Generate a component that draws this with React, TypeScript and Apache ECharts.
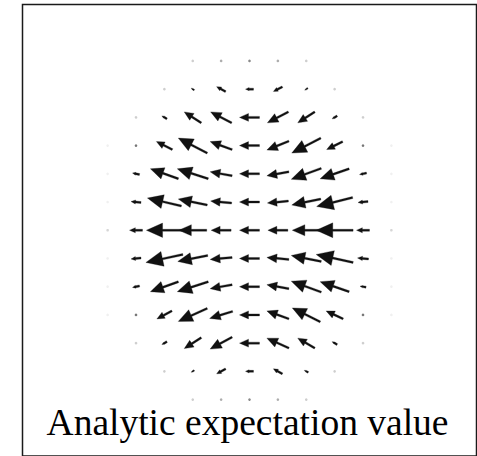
import React, { useEffect, useRef } from "react";
import * as echarts from "echarts";

// Sample grid: columns (x) and rows (y, top to bottom)
const COLS = [-5, -4, -3, -2, -1, 0, 1, 2, 3, 4, 5];
const ROWS = [6, 5, 4, 3, 2, 1, 0, -1, -2, -3, -4, -5, -6];

// Horizontal component of the expectation value at each grid point
const U_ROWS = [
  [0, 0, 0, -0.1, -0.15, -0.2, -0.15, -0.1, 0, 0, 0],
  [0, 0, -0.1, -0.3, -0.9, -0.8, -0.9, -0.3, -0.1, 0, 0],
  [0, -0.1, -0.5, -1.7, -2.1, -2.0, -2.1, -1.7, -0.5, -0.1, 0],
  [-0.05, -0.2, -1.6, -2.9, -2.2, -2.0, -2.2, -2.9, -1.6, -0.2, -0.05],
  [-0.05, -0.7, -2.8, -3.1, -2.2, -2.0, -2.2, -3.0, -2.9, -0.7, -0.05],
  [-0.05, -1.0, -3.4, -2.9, -2.1, -2.0, -2.1, -2.9, -3.6, -1.0, -0.05],
  [-0.1, -1.3, -3.6, -2.8, -2.0, -2.0, -2.0, -2.8, -3.7, -1.3, -0.1],
  [-0.05, -1.0, -3.7, -3.0, -2.2, -2.0, -2.2, -3.0, -3.7, -1.1, -0.05],
  [-0.05, -0.7, -2.8, -3.1, -2.2, -2.0, -2.2, -3.0, -2.9, -0.6, -0.05],
  [-0.05, -0.2, -1.5, -2.9, -2.3, -2.0, -2.2, -2.8, -1.7, -0.2, -0.05],
  [0, -0.1, -0.5, -1.7, -2.2, -2.0, -2.2, -1.7, -0.5, -0.1, 0],
  [0, 0, -0.1, -0.3, -0.9, -0.8, -0.9, -0.4, -0.1, 0, 0],
  [0, 0, 0, -0.1, -0.15, -0.2, -0.15, -0.1, 0, 0, 0],
];

// Vertical component of the expectation value at each grid point
const V_ROWS = [
  [0, 0, 0, 0.05, 0.05, 0, -0.05, -0.05, 0, 0, 0],
  [0, 0, 0.05, 0.2, 0.5, 0, -0.45, -0.2, -0.05, 0, 0],
  [0, 0.05, 0.3, 1.1, 1.1, 0, -1.1, -1.1, -0.3, -0.05, 0],
  [0, 0.1, 0.8, 1.5, 0.8, 0, -0.9, -1.5, -0.8, -0.1, 0],
  [0, 0.15, 1.0, 1.0, 0.4, 0, -0.4, -1.1, -1.0, -0.15, 0],
  [0, 0.1, 0.8, 0.6, 0.2, 0, -0.2, -0.6, -0.9, -0.1, 0],
  [0, 0, 0, 0, 0, 0, 0, 0, 0, 0, 0],
  [0, -0.1, -0.8, -0.6, -0.2, 0, 0.2, 0.6, 0.8, 0.1, 0],
  [0, -0.15, -1.0, -1.0, -0.4, 0, 0.4, 1.1, 1.0, 0.1, 0],
  [0, -0.1, -0.8, -1.3, -0.7, 0, 0.8, 1.4, 0.8, 0.1, 0],
  [0, -0.05, -0.3, -1.1, -1.2, 0, 1.0, 1.0, 0.3, 0.05, 0],
  [0, 0, -0.05, -0.2, -0.5, 0, 0.5, 0.2, 0.05, 0, 0],
  [0, 0, 0, -0.05, -0.05, 0, 0.05, 0.05, 0, 0, 0],
];

const TITLE = "Analytic expectation value";
const INK = "#111111";
// Arrow length per unit of field magnitude, as a fraction of one grid cell
const ARROW_SCALE = 0.352;

function buildVectors(): number[][] {
  const out: number[][] = [];
  ROWS.forEach((y, r) => {
    COLS.forEach((x, c) => {
      out.push([x, y, U_ROWS[r][c], V_ROWS[r][c]]);
    });
  });
  return out;
}

function renderArrow(params: any, api: any) {
  const x = api.value(0);
  const y = api.value(1);
  const u = api.value(2);
  const v = api.value(3);
  const [cx, cy] = api.coord([x, y]);
  const unit = api.size([1, 1])[0];
  const dx = u * unit * ARROW_SCALE;
  const dy = -v * unit * ARROW_SCALE;
  const L = Math.hypot(dx, dy);
  if (L < 0.01) return { type: "group", children: [] };
  if (L < 3) {
    // too short for a head: a small dot whose darkness follows the magnitude
    return {
      type: "circle",
      shape: { cx, cy, r: 1.3 },
      style: { fill: INK, opacity: Math.min(1, 0.9 * Math.pow(L / 3, 1.5)) },
    };
  }
  const ux = dx / L;
  const uy = dy / L;
  const px = -uy;
  const py = ux;
  const hl = 0.45 * L;
  const hw = 0.2 * L;
  const sw = Math.min(1.0, hw);
  const tx = cx - (ux * L) / 2;
  const ty = cy - (uy * L) / 2;
  const hx = cx + (ux * L) / 2;
  const hy = cy + (uy * L) / 2;
  const bx = hx - ux * hl;
  const by = hy - uy * hl;
  const points = [
    [tx + px * sw, ty + py * sw],
    [bx + px * sw, by + py * sw],
    [bx + px * hw, by + py * hw],
    [hx, hy],
    [bx - px * hw, by - py * hw],
    [bx - px * sw, by - py * sw],
    [tx - px * sw, ty - py * sw],
  ];
  return {
    type: "polygon",
    shape: { points },
    style: { fill: INK, stroke: INK, lineWidth: 0.3 },
  };
}

export default function App() {
  const ref = useRef<HTMLDivElement>(null);

  useEffect(() => {
    if (!ref.current) return;
    const chart = echarts.init(ref.current, null, { renderer: "svg" });
    chart.setOption({
      animation: false,
      backgroundColor: "#ffffff",
      grid: {
        left: 22.5,
        top: 4.5,
        width: 454,
        height: 454,
        show: true,
        borderColor: "#1a1a1a",
        borderWidth: 1.5,
        backgroundColor: "#ffffff",
      },
      xAxis: { type: "value", min: -8, max: 8, show: false },
      yAxis: { type: "value", min: -8, max: 8, show: false },
      series: [
        {
          type: "custom",
          renderItem: renderArrow,
          data: buildVectors(),
          clip: true,
          silent: true,
        },
      ],
      graphic: [
        {
          type: "text",
          x: 247.5,
          y: 403,
          z: 10,
          style: {
            text: TITLE,
            fill: "#000000",
            textAlign: "center",
            textVerticalAlign: "top",
            font: '37.5px "Liberation Serif", "DejaVu Serif", serif',
          },
        },
      ],
    });
    return () => chart.dispose();
  }, []);

  return (
    <div
      ref={ref}
      style={{
        position: "fixed",
        left: 0,
        top: 0,
        width: 477,
        height: 456,
        background: "#ffffff",
      }}
    />
  );
}
